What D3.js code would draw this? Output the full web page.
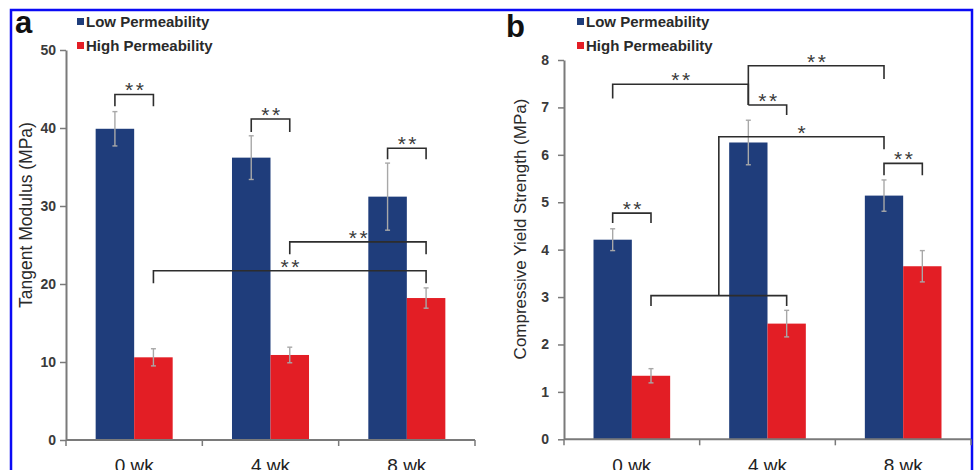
<!DOCTYPE html>
<html><head><meta charset="utf-8">
<script src="https://cdn.jsdelivr.net/npm/d3@7/dist/d3.min.js"></script>
<style>html,body{margin:0;padding:0;background:#fff;overflow:hidden}</style>
</head><body><svg id="c" width="974" height="470"></svg>
<script>
const categories = ["0 wk", "4 wk", "8 wk"];
const seriesNames = ["Low Permeability", "High Permeability"];
const seriesColors = ["#1f3d7b", "#e31e25"];

// Panel a: Tangent Modulus (MPa)
const lowA = [39.9, 36.2, 31.2];
const lowAErr = [2.2, 2.8, 4.3];
const highA = [10.6, 10.9, 18.2];
const highAErr = [1.1, 1.0, 1.3];
const ticksA = [0, 10, 20, 30, 40, 50];

// Panel b: Compressive Yield Strength (MPa)
const lowB = [4.21, 6.26, 5.14];
const lowBErr = [0.23, 0.47, 0.33];
const highB = [1.34, 2.44, 3.65];
const highBErr = [0.15, 0.28, 0.33];
const ticksB = [0, 1, 2, 3, 4, 5, 6, 7, 8];

// significance brackets: [fromGroup, fromSeries, toGroup, toSeries, level, leftEnd, rightEnd, label]
// a "from" group of "mid" means the midpoint between groups 0 and 1 of that series
const sigA = [
  [0, 0, 0, 1, 44.3, 42.8, 42.8, "**"],
  [1, 0, 1, 1, 41.15, 39.5, 39.5, "**"],
  [2, 0, 2, 1, 37.4, 36.0, 36.0, "**"],
  [1, 1, 2, 1, 25.4, 23.8, 23.8, "**"],
  [0, 1, 2, 1, 21.7, 20.1, 20.1, "**"]
];
const sigB = [
  [0, 0, 1, 0, 7.49, 7.19, 7.05, "**"],
  [1, 0, 2, 0, 7.88, 7.05, 7.60, "**"],
  [1, 0, 1, 1, 7.05, 7.05, 6.84, "**"],
  ["mid", 1, 2, 0, 6.38, 3.03, 6.12, "*"],
  [0, 1, 1, 1, 3.03, 2.81, 2.81, ""],
  [2, 0, 2, 1, 5.82, 5.57, 5.57, "**"],
  [0, 0, 0, 1, 4.77, 4.56, 4.56, "**"]
];

const svg = d3.select("#c");
const FONT = "Liberation Sans, Arial, sans-serif";

// blue frame
svg.append("rect").attr("x", 11).attr("y", 10).attr("width", 961).attr("height", 490)
  .attr("fill", "none").attr("stroke", "#0a0af5").attr("stroke-width", 2.5);

function panel(o) {
  const g = svg.append("g");
  const x = d3.scaleBand().domain(categories).range([o.x0, o.x1]);
  const xi = d3.scaleBand().domain([0, 1]).range([0, x.bandwidth()]).paddingOuter(0.77).paddingInner(0);
  const y = d3.scaleLinear().domain([0, o.max]).range([o.y0, o.y1]);
  const cx = (gi, si) => gi === "mid"
    ? (x(categories[0]) + xi(si) + xi.bandwidth() / 2 + x(categories[1]) + xi(si) + xi.bandwidth() / 2) / 2
    : x(categories[gi]) + xi(si) + xi.bandwidth() / 2;

  const series = [o.low, o.high], errs = [o.lowErr, o.highErr];
  series.forEach((vals, si) => {
    g.selectAll(null).data(vals).enter().append("rect")
      .attr("x", (d, i) => x(categories[i]) + xi(si))
      .attr("width", xi.bandwidth())
      .attr("y", d => y(d)).attr("height", d => y(0) - y(d))
      .attr("fill", seriesColors[si]);
  });
  series.forEach((vals, si) => {
    vals.forEach((v, i) => {
      const c = cx(i, si), e = errs[si][i];
      g.append("line").attr("x1", c).attr("x2", c).attr("y1", y(v - e)).attr("y2", y(v + e))
        .attr("stroke", "#a8a8a8").attr("stroke-width", 1.4);
      [v - e, v + e].forEach(t => g.append("line").attr("x1", c - 2.5).attr("x2", c + 2.5)
        .attr("y1", y(t)).attr("y2", y(t)).attr("stroke", "#a8a8a8").attr("stroke-width", 1.4));
    });
  });

  // y axis
  const ya = g.append("g").attr("transform", `translate(${o.x0},0)`)
    .call(d3.axisLeft(y).tickValues(o.ticks).tickSize(6).tickSizeOuter(0).tickPadding(o.pad));
  ya.select(".domain").attr("stroke", "#7a7a7a").attr("stroke-width", 2);
  ya.selectAll(".tick line").attr("stroke", "#7a7a7a").attr("stroke-width", 1.5);
  ya.selectAll(".tick text").attr("font-family", FONT).attr("font-size", 14).attr("font-weight", "bold").attr("fill", "#3a3a3a");

  // x axis
  g.append("line").attr("x1", o.x0).attr("x2", o.x1).attr("y1", y(0)).attr("y2", y(0))
    .attr("stroke", "#7a7a7a").attr("stroke-width", 2);
  const edges = categories.map(c => x(c)).concat([x(categories[2]) + x.bandwidth()]);
  g.selectAll(null).data(edges).enter().append("line")
    .attr("x1", d => d).attr("x2", d => d).attr("y1", y(0)).attr("y2", y(0) + 6)
    .attr("stroke", "#7a7a7a").attr("stroke-width", 1.5);
  g.selectAll(null).data(categories).enter().append("text")
    .attr("x", d => x(d) + x.bandwidth() / 2).attr("y", 472)
    .attr("text-anchor", "middle").attr("font-family", FONT).attr("font-size", 19).attr("fill", "#222")
    .text(d => d);

  // y title
  g.append("text").attr("transform", `translate(${o.tx},${o.ty}) rotate(-90)`)
    .attr("text-anchor", "middle").attr("font-family", FONT).attr("font-size", o.tsize).attr("fill", "#2a2a2a")
    .text(o.title);

  // brackets
  o.sig.forEach(s => {
    const xl = cx(s[0], s[1]), xr = cx(s[2], s[3]);
    const yl = y(s[4]);
    const p = d3.path();
    p.moveTo(xl, y(s[5])); p.lineTo(xl, yl); p.lineTo(xr, yl); p.lineTo(xr, y(s[6]));
    g.append("path").attr("d", p.toString()).attr("fill", "none").attr("stroke", "#2d2d2d").attr("stroke-width", 1.6);
    if (s[7]) g.append("text").attr("x", (xl + xr) / 2 + 1.5).attr("y", yl + 3)
      .attr("text-anchor", "middle").attr("font-family", FONT).attr("font-size", 21)
      .attr("letter-spacing", 2.5).attr("fill", "#3a3a3a").text(s[7]);
  });

  // panel letter
  g.append("text").attr("x", o.lx).attr("y", o.ly).attr("font-family", FONT).attr("font-size", 31)
    .attr("font-weight", "bold").attr("fill", "#111").text(o.letter);

  // legend
  seriesNames.forEach((n, i) => {
    g.append("rect").attr("x", o.legx).attr("y", 18 + i * 24).attr("width", 7).attr("height", 7).attr("fill", seriesColors[i]);
    g.append("text").attr("x", o.legx + 9).attr("y", 27 + i * 23.5).attr("font-family", FONT).attr("font-size", 15)
      .attr("font-weight", "bold").attr("fill", "#2a2a2a").text(n);
  });
}

panel({x0: 66, x1: 475, y0: 440, y1: 50, max: 50, ticks: ticksA, pad: 4,
  low: lowA, lowErr: lowAErr, high: highA, highErr: highAErr, sig: sigA,
  title: "Tangent Modulus (MPa)", tx: 32, ty: 215, tsize: 17.5,
  letter: "a", lx: 15, ly: 33, legx: 77});
panel({x0: 564, x1: 971, y0: 439.3, y1: 60, max: 8, ticks: ticksB, pad: 9,
  low: lowB, lowErr: lowBErr, high: highB, highErr: highBErr, sig: sigB,
  title: "Compressive Yield Strength (MPa)", tx: 526, ty: 229, tsize: 17,
  letter: "b", lx: 506, ly: 37, legx: 577});
</script></body></html>
